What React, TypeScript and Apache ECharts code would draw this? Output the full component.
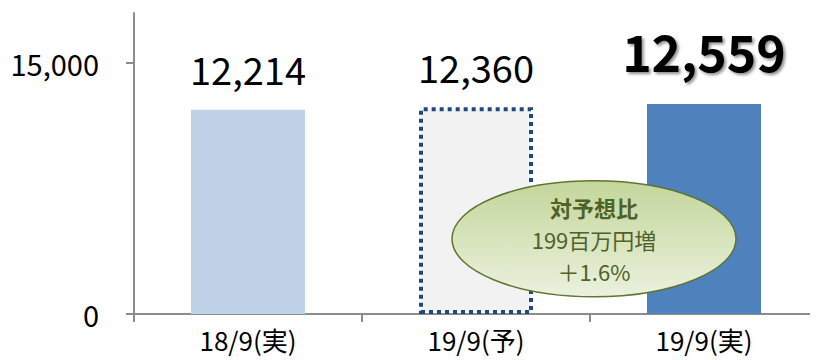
import React, { useEffect, useRef } from "react";
import * as echarts from "echarts";

const categories = ["18/9(実)", "19/9(予)", "19/9(実)"];
const values = [12214, 12360, 12559];
const yTicks = [0, 15000];
const noteLines = ["対予想比", "199百万円増", "＋1.6%"];

const FONT = "'Noto Sans CJK JP', 'Noto Sans', sans-serif";

export default function App() {
  const ref = useRef<HTMLDivElement>(null);
  useEffect(() => {
    if (!ref.current) return;
    const chart = echarts.init(ref.current, null, { renderer: "svg" });
    const fmt = (v: number) => v.toLocaleString("en-US");
    const styles = [
      { color: "#C0D2E8" },
      { color: "#F2F2F2", borderColor: "#1F497D", borderWidth: 4, borderType: [4, 4] },
      { color: "#4F81BD" },
    ];
    const data = values.map((v, i) => {
      const item: any = { value: v, itemStyle: styles[i] };
      if (i === 2) {
        item.label = {
          fontSize: 50,
          fontWeight: "bold",
          distance: 29,
          textShadowColor: "rgba(0,0,0,0.45)",
          textShadowBlur: 3,
          textShadowOffsetX: 2,
          textShadowOffsetY: 2,
        };
      }
      return item;
    });
    chart.setOption({
      animation: false,
      grid: { left: 134, right: 0, top: 13, bottom: 46, containLabel: false },
      xAxis: {
        type: "category",
        data: categories,
        boundaryGap: true,
        axisLine: { lineStyle: { color: "#8C8C8C", width: 2 } },
        axisTick: { show: true, length: 8, lineStyle: { color: "#8C8C8C", width: 2 } },
        axisLabel: { color: "#000", fontSize: 26, fontFamily: FONT, margin: 12 },
      },
      yAxis: {
        type: "value",
        min: 0,
        max: 18000,
        interval: 15000,
        axisLine: { show: true, lineStyle: { color: "#8C8C8C", width: 2 } },
        axisTick: { show: true, length: 8, customValues: yTicks, lineStyle: { color: "#8C8C8C", width: 2 } },
        axisLabel: {
          color: "#000",
          fontSize: 29,
          fontFamily: FONT,
          margin: 35,
          customValues: yTicks,
          formatter: (v: number) => fmt(v),
        },
        splitLine: { show: true, showMinLine: false, showMaxLine: false, lineStyle: { color: "#8C8C8C", width: 2 } },
      },
      series: [
        {
          type: "bar",
          data,
          barWidth: "50%",
          label: {
            show: true,
            position: "top",
            distance: 22,
            color: "#000",
            fontSize: 38,
            fontFamily: FONT,
            formatter: (p: any) => fmt(p.value),
          },
        },
      ],
    });
    const cy = chart.convertToPixel({ yAxisIndex: 0 }, 4500) as number;
    const xs1 = chart.convertToPixel({ xAxisIndex: 0 }, categories[1]) as number;
    const xs2 = chart.convertToPixel({ xAxisIndex: 0 }, categories[2]) as number;
    const ex = (xs1 + xs2) / 2 + 4;
    chart.setOption({
      graphic: [
        {
          type: "ellipse",
          shape: { cx: ex, cy, rx: 142, ry: 58 },
          style: {
            fill: new echarts.graphic.LinearGradient(0, 0, 0, 1, [
              { offset: 0, color: "#C3D69B" },
              { offset: 1, color: "#EBF1DE" },
            ]),
            stroke: "#5F7530",
            lineWidth: 1.5,
          },
          z: 100,
        },
        {
          type: "text",
          x: ex,
          y: cy,
          style: {
            text: `{b|${noteLines[0]}}\n{n|${noteLines[1]}}\n{n|${noteLines[2]}}`,
            fill: "#4F6228",
            fontSize: 22,
            lineHeight: 32,
            fontFamily: FONT,
            align: "center",
            verticalAlign: "middle",
            rich: {
              b: { fontSize: 22, lineHeight: 32, fontWeight: "bold", fill: "#4F6228", fontFamily: FONT },
              n: { fontSize: 22, lineHeight: 32, fill: "#4F6228", fontFamily: FONT },
            },
          },
          z: 101,
        },
      ],
    });
    return () => chart.dispose();
  }, []);
  return <div ref={ref} style={{ width: 818, height: 360, marginLeft: -8, marginTop: -8 }} />;
}
